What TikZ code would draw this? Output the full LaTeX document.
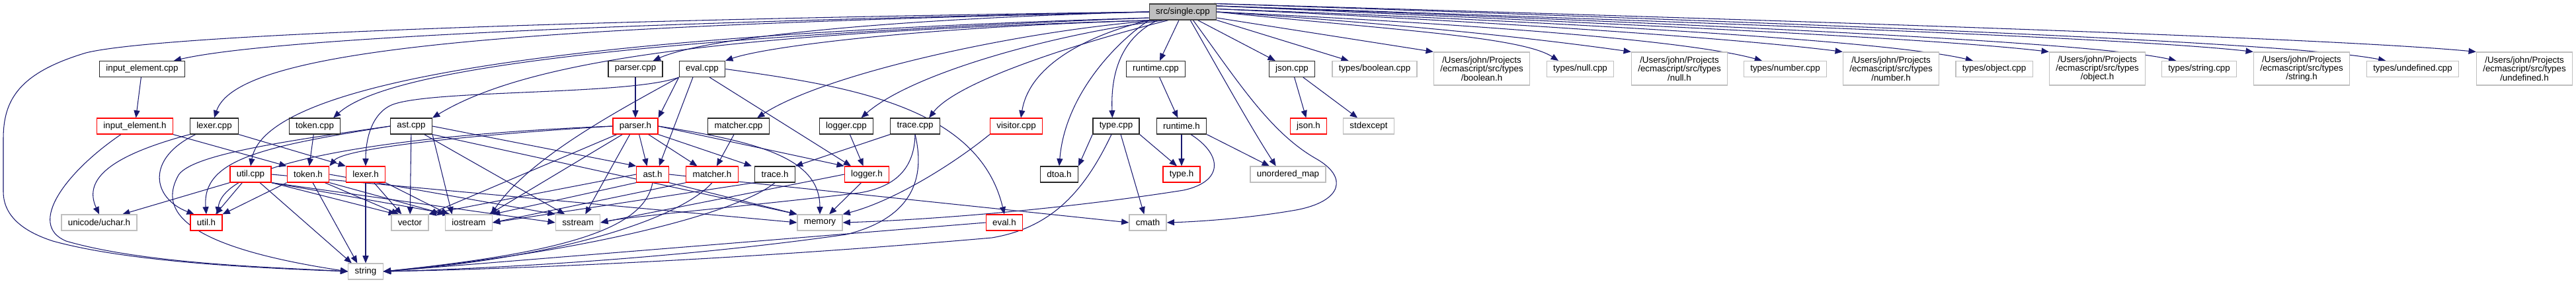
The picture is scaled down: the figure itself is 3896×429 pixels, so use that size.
\documentclass[tikz,border=0pt]{standalone}
\usepackage{fontspec}
\setmainfont{Liberation Sans}
\usetikzlibrary{arrows.meta}
\definecolor{edgeblue}{HTML}{191970}
\definecolor{extgray}{HTML}{BFBFBF}

\begin{document}
\begin{tikzpicture}[
    x=0.025cm, y=-0.025cm,
    % Styles
    file/.style={
      rectangle,
      draw=black!85,
      fill=white,
      line width=0.9pt,
      minimum height=17pt,
      inner xsep=7pt,
      inner ysep=1pt,
      font=\fontsize{9.5}{9.5}\selectfont,
  },
    trunc/.style={file, draw=red},
    ext/.style={file, draw=extgray},
    root/.style={file, fill=extgray, draw=black!75},
    path3/.style={ext, align=center, minimum height=35.5pt},
    dep/.style={-{Triangle[length=8pt,width=6.5pt]}, draw=edgeblue, line width=0.75pt},
  ]
  \pgfdeclarelayer{background}
  \pgfsetlayers{background,main}
  \useasboundingbox (0,0) rectangle (3896,429);
  \node[root] (single) at (1789,18) {src/single.cpp};
  \node[file] (iecpp) at (215,104.5) {input\_element.cpp};
  \node[file] (parcpp) at (961,104.5) {parser.cpp};
  \node[file] (evcpp) at (1062,104.5) {eval.cpp};
  \node[file] (rtcpp) at (1748,104.5) {runtime.cpp};
  \node[file] (jscpp) at (1954,104.5) {json.cpp};
  \node[ext] (boolcpp) at (2079,104.5) {types/boolean.cpp};
  \node[path3] (boolh) at (2241,104) {/Users/john/Projects\\/ecmascript/src/types\\/boolean.h};
  \node[ext] (nullcpp) at (2390,104.5) {types/null.cpp};
  \node[path3] (nullh) at (2540,104) {/Users/john/Projects\\/ecmascript/src/types\\/null.h};
  \node[ext] (numcpp) at (2700,104.5) {types/number.cpp};
  \node[path3] (numh) at (2860,104) {/Users/john/Projects\\/ecmascript/src/types\\/number.h};
  \node[ext] (objcpp) at (3016,104.5) {types/object.cpp};
  \node[path3] (objh) at (3172,104) {/Users/john/Projects\\/ecmascript/src/types\\/object.h};
  \node[ext] (strcpp) at (3326,104.5) {types/string.cpp};
  \node[path3] (strh) at (3481,104) {/Users/john/Projects\\/ecmascript/src/types\\/string.h};
  \node[ext] (undcpp) at (3649,104.5) {types/undefined.cpp};
  \node[path3] (undh) at (3818,104) {/Users/john/Projects\\/ecmascript/src/types\\/undefined.h};

  \node[trunc] (ieh) at (204,191) {input\_element.h};
  \node[file] (lexcpp) at (324,191) {lexer.cpp};
  \node[file] (tokcpp) at (476,191) {token.cpp};
  \node[file] (astcpp) at (622,191) {ast.cpp};
  \node[trunc] (parh) at (961,191) {parser.h};
  \node[file] (matcpp) at (1117,191) {matcher.cpp};
  \node[file] (logcpp) at (1280,191) {logger.cpp};
  \node[file] (trcpp) at (1384,191) {trace.cpp};
  \node[trunc] (viscpp) at (1537,191) {visitor.cpp};
  \node[file] (typcpp) at (1688,191) {type.cpp};
  \node[file] (rth) at (1787,191) {runtime.h};
  \node[trunc] (jsh) at (1979,191) {json.h};
  \node[ext] (stdex) at (2070,191) {stdexcept};

  \node[trunc] (utilcpp) at (379,264) {util.cpp};
  \node[trunc] (tokh) at (466,264) {token.h};
  \node[trunc] (lexh) at (553,264) {lexer.h};
  \node[trunc] (asth) at (987,264) {ast.h};
  \node[trunc] (math) at (1077,264) {matcher.h};
  \node[file] (trh) at (1172,264) {trace.h};
  \node[trunc] (logh) at (1311,264) {logger.h};
  \node[file] (dtoa) at (1602,264) {dtoa.h};
  \node[trunc] (typh) at (1787,264) {type.h};
  \node[ext] (umap) at (1948,264) {unordered\_map};

  \node[ext] (uchar) at (150,337) {unicode/uchar.h};
  \node[trunc] (utilh) at (312,337) {util.h};
  \node[ext] (vec) at (620,337) {vector};
  \node[ext] (ios) at (709,337) {iostream};
  \node[ext] (sstr) at (874,337) {sstream};
  \node[ext] (mem) at (1240,337) {memory};
  \node[trunc] (evh) at (1519,337) {eval.h};
  \node[ext] (cmath) at (1736,337) {cmath};
  \node[ext] (str) at (553,411) {string};

  \begin{pgfonlayer}{background}
  % single.cpp, left side
  \draw[dep] (single.west) .. controls (1000,28) and (250,50) .. (130,80) .. controls (30,110) and (5,150) .. (5,210) -- (5,290) .. controls (5,330) and (40,352) .. (80,365) .. controls (200,398) and (400,406) .. (str.west);
  \draw[dep] (single.west) .. controls (900,35) and (400,60) .. ([xshift=34pt]iecpp.north);
  \draw[dep] (single.west) .. controls (800,40) and (360,70) .. (lexcpp.north);
  \draw[dep] (single.190) .. controls (800,55) and (400,130) .. (utilcpp.north);
  \draw[dep] (single.190) .. controls (900,60) and (580,110) .. ([xshift=20pt]tokcpp.north);
  \draw[dep] (single.195) .. controls (1100,50) and (800,90) .. (astcpp.north east);
  \draw[dep] (single.west) .. controls (1300,30) and (1060,60) .. ([xshift=19pt]parcpp.north);
  \draw[dep] (single.200) .. controls (1400,40) and (1160,70) .. ([xshift=25pt]evcpp.north);
  \draw[dep] (single.200) .. controls (1550,45) and (1250,110) .. ([xshift=20pt]matcpp.north);
  \draw[dep] (single.205) .. controls (1600,50) and (1380,110) .. ([xshift=16pt]logcpp.north);
  \draw[dep] (single.210) .. controls (1650,60) and (1450,120) .. ([xshift=15pt]trcpp.north);
  \draw[dep] (single.south west) .. controls (1620,60) and (1555,110) .. ([xshift=5pt]viscpp.north);
  \draw[dep] (single.south west) .. controls (1680,70) and (1610,150) .. (dtoa.north);
  \draw[dep] ([xshift=-27pt]single.south) .. controls (1690,60) and (1680,120) .. ([xshift=-4pt]typcpp.north);
  \draw[dep] (single) -- (rtcpp);
  \draw[dep] ([xshift=8pt]single.south) .. controls (1840,100) and (1890,190) .. ([xshift=-13pt]umap.north);
  \draw[dep] ([xshift=11pt]single.south) .. controls (1870,120) and (1920,200) .. (1990,240) .. controls (2040,268) and (2030,305) .. (1960,318) .. controls (1880,332) and (1800,336) .. (cmath.east);

  % single.cpp, right side
  \draw[dep] ([xshift=16pt]single.south) -- ([xshift=-18pt]jscpp.north);
  \draw[dep] (single.south east) -- ([xshift=18pt]boolcpp.north west);
  \draw[dep] (single.-10) -- (boolh.north west);
  \draw[dep] (single.east) .. controls (2100,45) and (2300,55) .. ([xshift=13pt]nullcpp.north west);
  \draw[dep] (single.east) .. controls (2100,35) and (2300,55) .. (nullh.north west);
  \draw[dep] (single.east) .. controls (2200,35) and (2550,60) .. ([xshift=20pt]numcpp.north west);
  \draw[dep] (single.5) .. controls (2200,30) and (2600,55) .. (numh.north west);
  \draw[dep] (single.5) .. controls (2300,30) and (2850,60) .. ([xshift=19pt]objcpp.north west);
  \draw[dep] (single.10) .. controls (2300,30) and (2900,55) .. (objh.north west);
  \draw[dep] (single.10) .. controls (2400,30) and (3150,60) .. ([xshift=16pt]strcpp.north west);
  \draw[dep] (single.10) .. controls (2400,28) and (3200,55) .. (strh.north west);
  \draw[dep] (single.15) .. controls (2500,28) and (3450,60) .. ([xshift=21pt]undcpp.north west);
  \draw[dep] (single.15) .. controls (2500,25) and (3500,55) .. (undh.north west);

  \draw[dep] (iecpp) -- (ieh);
  \draw[dep] (ieh.south east) -- (tokh.north west);
  \draw[dep] ([xshift=-15pt]ieh.south) .. controls (100,260) and (40,340) .. (100,365) .. controls (220,400) and (420,405) .. (str.west);

  \draw[dep] (lexcpp.south west) .. controls (170,235) and (125,270) .. (uchar.north);
  \draw[dep] ([xshift=-20pt]lexcpp.south) .. controls (220,240) and (230,300) .. ([xshift=-13pt]utilh.north);
  \draw[dep] (lexcpp.south east) -- (lexh.north west);
  \draw[dep] (tokcpp) -- (tokh);

  \draw[dep] (astcpp.west) .. controls (420,215) and (290,235) .. (270,265) .. controls (245,310) and (255,370) .. (str.west);
  \draw[dep] (astcpp.west) .. controls (400,222) and (305,240) .. (utilh.north);
  \draw[dep] (astcpp) -- (vec);
  \draw[dep] (astcpp.east) -- (asth.north west);
  \draw[dep] (astcpp.south east) -- (mem.north west);
  \draw[dep] ([xshift=14pt]astcpp.south) -- ([xshift=-14pt]sstr.north);
  \draw[dep] (astcpp.south east) -- ([xshift=-18pt]ios.north);

  \draw[dep] (utilcpp.south west) -- ([xshift=25pt]uchar.north);
  \draw[dep] ([xshift=-9pt]utilcpp.south) -- ([xshift=10pt]utilh.north);
  \draw[dep] ([xshift=10pt]utilcpp.south) -- ([xshift=-15pt]str.north);
  \draw[dep] (utilcpp.south east) -- ([xshift=-15pt]vec.north);
  \draw[dep] (utilcpp.south east) -- ([xshift=-20pt]ios.north);
  \draw[dep] (utilcpp.south east) -- (sstr.west);
  \draw[dep] (utilcpp.east) -- (mem.west);

  \draw[dep] (tokh.south west) -- (utilh.north east);
  \draw[dep] ([xshift=5pt]tokh.south) -- ([xshift=-9pt]str.north);
  \draw[dep] ([xshift=18pt]tokh.south) -- ([xshift=-12pt]vec.north);
  \draw[dep] (tokh.south east) -- (ios.north west);
  \draw[dep] (tokh.east) -- (sstr.north west);

  \draw[dep] (lexh) -- (str);
  \draw[dep] ([xshift=9pt]lexh.south) -- ([xshift=-9pt]vec.north);
  \draw[dep] (lexh.south east) -- ([xshift=-22pt]ios.north);

  \draw[dep] (parcpp) -- (parh);
  \draw[dep] ([xshift=4pt]parh.south) -- ([xshift=-6pt]asth.north);
  \draw[dep] ([xshift=14pt]parh.south) -- ([xshift=-16pt]math.north);
  \draw[dep] (parh.south east) -- ([xshift=-25pt]trh.north);
  \draw[dep] (parh.east) -- (logh.north west);
  \draw[dep] (parh.east) .. controls (1150,215) and (1240,240) .. (mem.north);
  \draw[dep] ([xshift=-6pt]parh.south) -- ([xshift=8pt]sstr.north);
  \draw[dep] ([xshift=-20pt]parh.south) -- (vec.north east);
  \draw[dep] ([xshift=-14pt]parh.south) -- ([xshift=22pt]ios.north);
  \draw[dep] (parh.west) .. controls (700,200) and (340,230) .. ([xshift=12pt]utilh.north);
  \draw[dep] (parh.west) .. controls (700,205) and (520,225) .. (tokh.north east);

  \draw[dep] (evcpp.south west) -- (parh.north east);
  \draw[dep] ([xshift=-10pt]evcpp.south) -- ([xshift=7pt]asth.north);
  \draw[dep] (evcpp.south west) .. controls (950,145) and (640,135) .. (590,160) .. controls (560,175) and (553,215) .. (lexh.north);
  \draw[dep] (evcpp.south west) .. controls (930,170) and (800,240) .. ([xshift=24pt]ios.north);
  \draw[dep] ([xshift=8pt]evcpp.south) -- ([xshift=-17pt]logh.north);
  \draw[dep] (evcpp.east) .. controls (1280,130) and (1480,160) .. (evh.north);

  \draw[dep] (matcpp) -- (math);
  \draw[dep] (logcpp) -- (logh);
  \draw[dep] (trcpp.south west) -- (trh.north east);
  \draw[dep] (trcpp.south) .. controls (1383,250) and (1360,282) .. (1300,292) .. controls (1150,310) and (950,328) .. (sstr.east);
  \draw[dep] (trcpp.south) .. controls (1400,270) and (1380,330) .. (1280,355) .. controls (1000,395) and (700,408) .. (str.east);
  \draw[dep] (viscpp.south west) .. controls (1440,250) and (1350,305) .. (mem.north east);

  \draw[dep] ([xshift=-6pt]logh.south) -- ([xshift=10pt]mem.north);
  \draw[dep] (logh.west) -- (sstr.east);
  \draw[dep] (trh.south west) -- (ios.east);
  \draw[dep] (trh.south) .. controls (1120,320) and (900,380) .. (str.east);
  \draw[dep] (math.south) .. controls (1030,330) and (850,390) .. (str.east);
  \draw[dep] (math.south west) -- (ios.east);
  \draw[dep] (asth.south) .. controls (975,340) and (880,380) .. (str.east);
  \draw[dep] (asth.south east) -- (mem.north west);
  \draw[dep] (asth.south west) -- (ios.north east);
  \draw[dep] (asth.west) -- (vec.north east);
  \draw[dep] (asth.east) -- (cmath.west);

  \draw[dep] (typcpp.south west) -- (dtoa.north east);
  \draw[dep] (typcpp.south east) -- ([xshift=-5pt]typh.north);
  \draw[dep] ([xshift=5pt]typcpp.south) -- ([xshift=-4pt]cmath.north);
  \draw[dep] ([xshift=-5pt]typcpp.south) .. controls (1640,290) and (1590,345) .. (1500,360) .. controls (1100,395) and (750,408) .. (str.east);

  \draw[dep] (rtcpp) -- (rth);
  \draw[dep] (rth) -- (typh);
  \draw[dep] (rth.south east) -- ([xshift=-20pt]umap.north);
  \draw[dep] ([xshift=10pt]rth.south) .. controls (1850,235) and (1850,275) .. (1790,288) .. controls (1600,318) and (1400,333) .. (mem.east);

  \draw[dep] (jscpp) -- (jsh);
  \draw[dep] (jscpp) -- (stdex);
  \draw[dep] (evh.west) -- (str.east);
  \end{pgfonlayer}
\end{tikzpicture}
\end{document}
